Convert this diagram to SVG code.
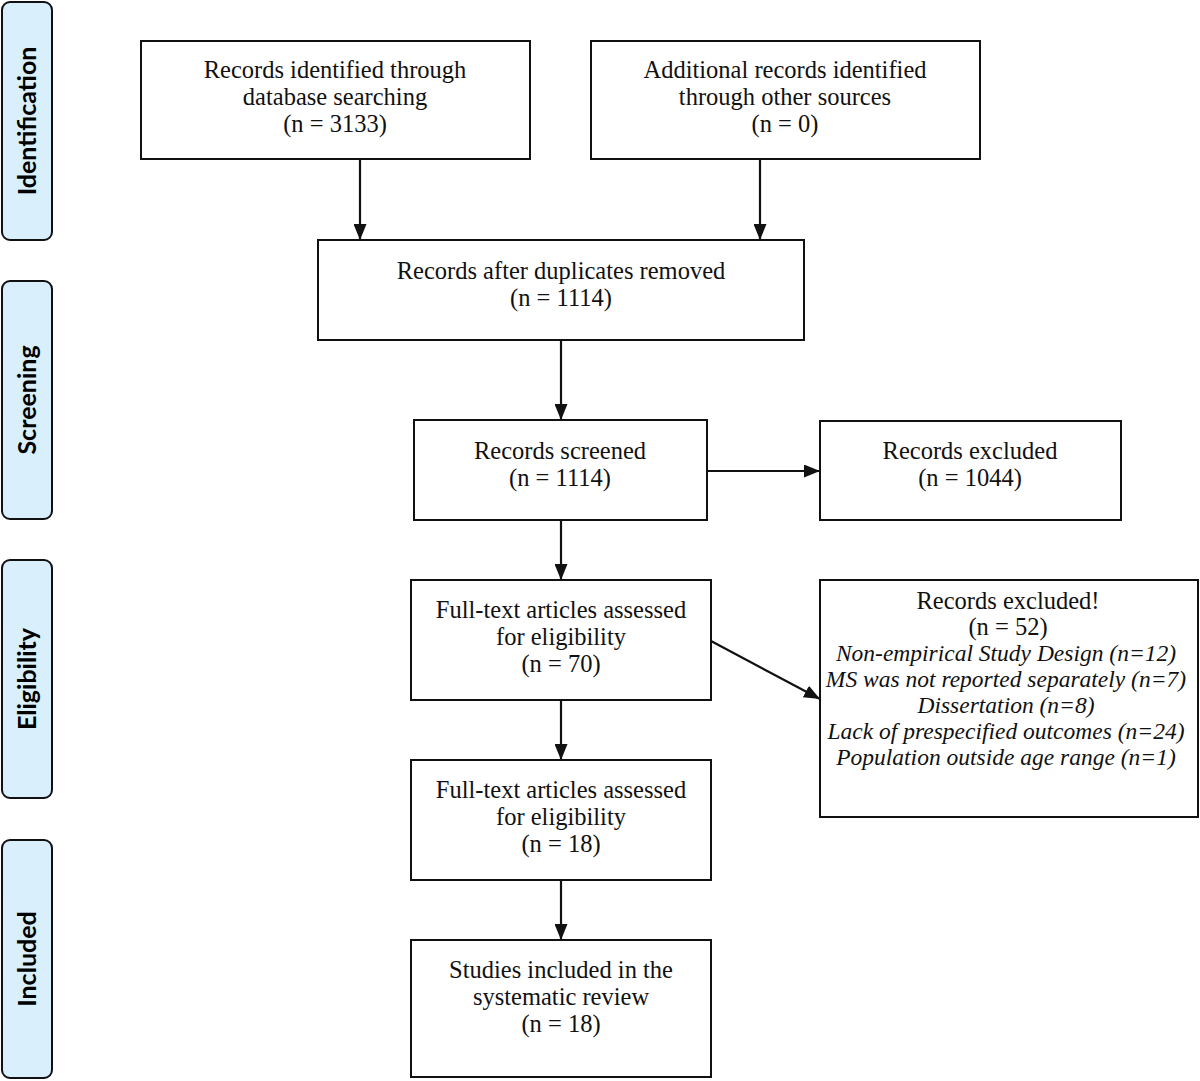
<svg xmlns="http://www.w3.org/2000/svg" width="1200" height="1081" viewBox="0 0 1200 1081">
<style>
.box{fill:#fff;stroke:#111;stroke-width:2}
.side{fill:#d9effb;stroke:#111;stroke-width:2}
.t{font-family:"Liberation Serif","Times New Roman",serif;font-size:24.5px;fill:#111;text-anchor:middle}
.i{font-style:italic;font-size:23.5px}
.s{font-family:Lato,"Liberation Sans",sans-serif;font-weight:bold;font-size:25px;fill:#000;text-anchor:middle}
.c{stroke:#111;stroke-width:2.2;fill:none;marker-end:url(#ah)}
</style>
<defs>
<marker id="ah" viewBox="0 0 16 13" refX="16" refY="6.5" markerWidth="16" markerHeight="13" markerUnits="userSpaceOnUse" orient="auto">
<path d="M0,0 L16,6.5 L0,13 z" fill="#111"/>
</marker>
</defs>
<rect width="1200" height="1081" fill="#fff"/>
<g id="stage-identification">
<rect class="side" x="2" y="2" width="50" height="238" rx="8"/>
<text class="s" transform="translate(36,121) rotate(-90)">Identification</text>
</g>
<g id="stage-screening">
<rect class="side" x="2" y="281" width="50" height="238" rx="8"/>
<text class="s" transform="translate(36,400) rotate(-90)">Screening</text>
</g>
<g id="stage-eligibility">
<rect class="side" x="2" y="560" width="50" height="238" rx="8"/>
<text class="s" transform="translate(36,679) rotate(-90)">Eligibility</text>
</g>
<g id="stage-included">
<rect class="side" x="2" y="840" width="50" height="238" rx="8"/>
<text class="s" transform="translate(36,959) rotate(-90)">Included</text>
</g>
<g id="connectors">
<line class="c" x1="360" y1="159" x2="360" y2="240"/>
<line class="c" x1="760" y1="159" x2="760" y2="240"/>
<line class="c" x1="561" y1="340" x2="561" y2="420"/>
<line class="c" x1="707" y1="471" x2="820" y2="471"/>
<line class="c" x1="561" y1="520" x2="561" y2="580"/>
<line class="c" x1="711" y1="641" x2="820" y2="699"/>
<line class="c" x1="561" y1="700" x2="561" y2="760"/>
<line class="c" x1="561" y1="880" x2="561" y2="940"/>
</g>
<g id="db-records">
<rect class="box" x="141" y="41" width="389" height="118"/>
<text class="t" x="335" y="78">Records identified through</text>
<text class="t" x="335" y="105">database searching</text>
<text class="t" x="335" y="132">(n = 3133)</text>
</g>
<g id="other-records">
<rect class="box" x="591" y="41" width="389" height="118"/>
<text class="t" x="785" y="78">Additional records identified</text>
<text class="t" x="785" y="105">through other sources</text>
<text class="t" x="785" y="132">(n = 0)</text>
</g>
<g id="dedup">
<rect class="box" x="318" y="240" width="486" height="100"/>
<text class="t" x="561" y="279">Records after duplicates removed</text>
<text class="t" x="561" y="306">(n = 1114)</text>
</g>
<g id="screened">
<rect class="box" x="414" y="420" width="293" height="100"/>
<text class="t" x="560" y="459">Records screened</text>
<text class="t" x="560" y="486">(n = 1114)</text>
</g>
<g id="excluded1">
<rect class="box" x="820" y="421" width="301" height="99"/>
<text class="t" x="970" y="459">Records excluded</text>
<text class="t" x="970" y="486">(n = 1044)</text>
</g>
<g id="fulltext">
<rect class="box" x="411" y="580" width="300" height="120"/>
<text class="t" x="561" y="618">Full-text articles assessed</text>
<text class="t" x="561" y="645">for eligibility</text>
<text class="t" x="561" y="672">(n = 70)</text>
</g>
<g id="excluded2">
<rect class="box" x="820" y="580" width="378" height="237"/>
<text class="t" x="1008" y="609">Records excluded!</text>
<text class="t" x="1008" y="635">(n = 52)</text>
<text class="t i" x="1006" y="661">Non-empirical Study Design (n=12)</text>
<text class="t i" x="1006" y="687">MS was not reported separately (n=7)</text>
<text class="t i" x="1006" y="713">Dissertation (n=8)</text>
<text class="t i" x="1006" y="739">Lack of prespecified outcomes (n=24)</text>
<text class="t i" x="1006" y="765">Population outside age range (n=1)</text>
</g>
<g id="fulltext2">
<rect class="box" x="411" y="760" width="300" height="120"/>
<text class="t" x="561" y="798">Full-text articles assessed</text>
<text class="t" x="561" y="825">for eligibility</text>
<text class="t" x="561" y="852">(n = 18)</text>
</g>
<g id="included">
<rect class="box" x="411" y="940" width="300" height="137"/>
<text class="t" x="561" y="978">Studies included in the</text>
<text class="t" x="561" y="1005">systematic review</text>
<text class="t" x="561" y="1032">(n = 18)</text>
</g>
</svg>
